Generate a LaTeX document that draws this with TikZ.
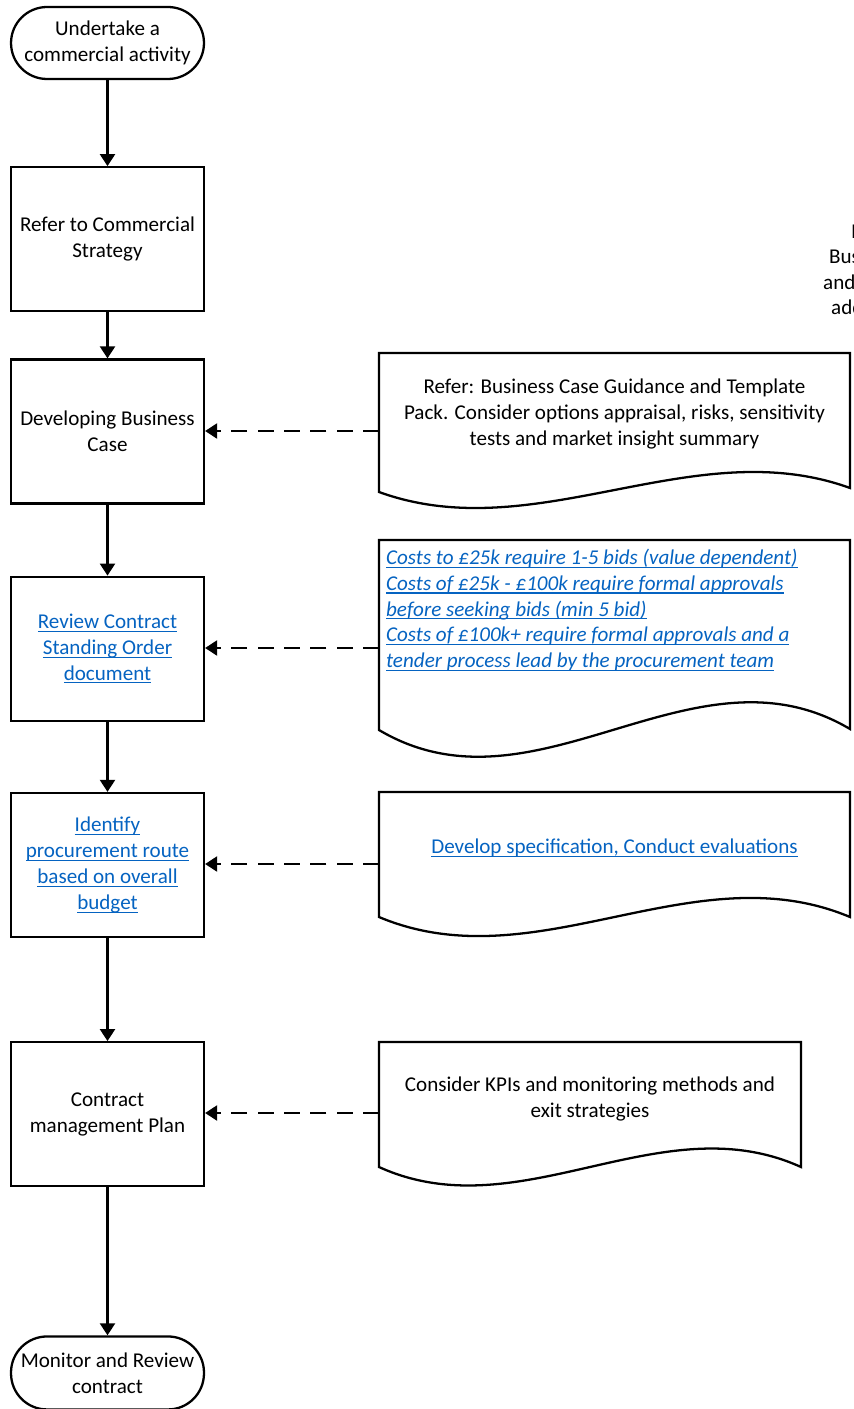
\documentclass[tikz,border=0pt]{standalone}
\usepackage{fontspec}
\setmainfont{Carlito}
\usepackage{tikz}
\usetikzlibrary{positioning,arrows.meta}
\definecolor{linkblue}{RGB}{5,99,193}
\newcommand{\lnk}[1]{\textcolor{linkblue}{\setbox0\hbox{#1}\rlap{\rule[-1.9pt]{\wd0}{0.6pt}}\box0}}
\tikzset{every picture/.style={line width=1.3pt}}
\tikzset{
  every node/.style={font=\fontsize{12pt}{14.7pt}\selectfont},
  procbox/.style={draw, minimum width=3.86cm, minimum height=2.88cm, align=center, inner sep=1pt},
  termbox/.style={draw, rounded corners=0.72cm, minimum width=3.86cm, minimum height=1.44cm, align=center, inner sep=1pt},
  flow/.style={-{Triangle[length=6.8pt,width=8.5pt]}},
  refline/.style={flow, dash pattern=on 9pt off 6pt},
  doctext/.style={align=center, inner sep=0pt}
}

\begin{document}
\begin{tikzpicture}[x=0.02cm, y=-0.02cm]
  \useasboundingbox (0,0) rectangle (854,1409);
  \node[termbox] (start) at (107.5,43) {Undertake a\\commercial activity};
  \node[procbox, below=1.72cm of start] (strategy) {Refer to Commercial\\Strategy};
  \node[procbox, below=0.92cm of strategy] (buscase) {Developing Business\\Case};
  \node[procbox, below=1.42cm of buscase] (orders) {\lnk{Review Contract}\\\lnk{Standing Order}\\\lnk{document}};
  \node[procbox, below=1.40cm of orders] (route) {\lnk{Identify}\\\lnk{procurement route}\\\lnk{based on overall}\\\lnk{budget}};
  \node[procbox, below=2.06cm of route] (plan) {Contract\\management Plan};
  \node[termbox, minimum height=1.46cm, below=2.96cm of plan] (monitor) {Monitor and Review\\contract};
  \foreach \a/\b in {start/strategy,strategy/buscase,buscase/orders,orders/route,route/plan,plan/monitor}{
    \draw[flow] (\a) -- (\b);
  }
  % document shapes
  \draw (379,492) -- (379,353) -- (850,353) -- (850,488) .. controls (693,431) and (536,549) .. (379,492) -- cycle;
  \draw (379,730) -- (379,540) -- (850,540) -- (850,729) .. controls (693,636) and (536,823) .. (379,730) -- cycle;
  \draw (379,917) -- (379,792) -- (850,792) -- (850,917) .. controls (693,851) and (536,983) .. (379,917) -- cycle;
  \draw (379,1167) -- (379,1042) -- (801,1042) -- (801,1167) .. controls (660,1103) and (520,1231) .. (379,1167) -- cycle;
  \node[doctext] (guide) at (614.5,414) {Refer: Business Case Guidance and Template\\Pack. Consider options appraisal, risks, sensitivity\\tests and market insight summary};
  \node[doctext, align=left, anchor=west, font=\fontsize{12pt}{14.7pt}\selectfont\itshape] (costs) at (385,610)
    {\lnk{Costs to £25k require 1-5 bids (value dependent)}\\\lnk{Costs of £25k - £100k require formal approvals}\\\lnk{before seeking bids (min 5 bid)}\\\lnk{Costs of £100k+ require formal approvals and a}\\\lnk{tender process lead by the procurement team}};
  \node[doctext] (spec) at (614.5,848) {\lnk{Develop specification, Conduct evaluations}};
  \node[doctext] (kpis) at (590,1099) {Consider KPIs and monitoring methods and\\exit strategies};
  \coordinate (guidew) at (379,431);
  \coordinate (costsw) at (379,648);
  \coordinate (specw) at (379,864);
  \coordinate (kpisw) at (379,1113);
  \draw[refline] (guidew) -- (guidew -| buscase.east);
  \draw[refline] (costsw) -- (costsw -| orders.east);
  \draw[refline] (specw) -- (specw -| route.east);
  \draw[refline] (kpisw) -- (kpisw -| plan.east);
  % cut-off note at the right edge
  \begin{scope}
    \clip (0,0) rectangle (854,1409);
    \foreach \t/\x/\y [count=\i] in {I/850/232,Bus/828/257,and/822/282,add/830/307}{
      \node[anchor=west, inner sep=0pt] (frag\i) at (\x,\y) {\t};
    }
  \end{scope}
\end{tikzpicture}
\end{document}
